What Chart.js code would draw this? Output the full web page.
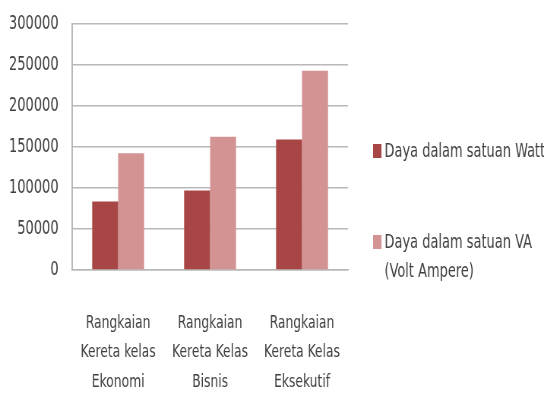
<!DOCTYPE html>
<html>
<head>
<meta charset="utf-8">
<script src="https://cdn.jsdelivr.net/npm/chart.js@4"></script>
<style>
  html, body { margin: 0; padding: 0; background: #fff; overflow: hidden; }
  #wrap { width: 544px; height: 401px; }
</style>
</head>
<body>
<div id="wrap">
  <!-- drawn wide, shown narrow: the source picture is squeezed sideways -->
  <canvas id="chart" width="716" height="401" style="width:544px;height:401px;display:block"></canvas>
</div>
<script>
'use strict';

// data
const categories = [
  ['Rangkaian', 'Kereta kelas', 'Ekonomi'],
  ['Rangkaian', 'Kereta Kelas', 'Bisnis'],
  ['Rangkaian', 'Kereta Kelas', 'Eksekutif'],
];
const seriesNames = [
  ['Daya dalam satuan Watt'],
  ['Daya dalam satuan VA', '(Volt Ampere)'],
];
const watt = [83500, 97000, 159000];
const voltAmpere = [142500, 162500, 243000];
const yTicks = [0, 50000, 100000, 150000, 200000, 250000, 300000];

const colors = ['#a84646', '#d49393'];
const font = '"DejaVu Sans Condensed", "Liberation Sans", sans-serif';

// legend on the right, drawn by hand so the second label can wrap
const sideLegend = {
  id: 'sideLegend',
  afterDraw(chart) {
    let ctx = chart.ctx;
    let rows = [151, 242]; // centre of first line of each entry
    let x0 = chart.chartArea.right + 33;
    ctx.save();
    ctx.font = '19px ' + font;
    ctx.textBaseline = 'middle';
    chart.data.datasets.forEach((ds, i) => {
      ctx.fillStyle = ds.backgroundColor;
      ctx.fillRect(x0, rows[i] - 7, 11, 14);
      ctx.fillStyle = '#404040';
      seriesNames[i].forEach((line, j) => {
        ctx.fillText(line, x0 + 15, rows[i] + 1 + j * 29);
      });
    });
    ctx.restore();
  },
};

let chart = new Chart(document.getElementById('chart'), {
  type: 'bar',
  data: {
    labels: categories,
    datasets: [
      { label: seriesNames[0].join(' '), data: watt, backgroundColor: colors[0] },
      { label: seriesNames[1].join(' '), data: voltAmpere, backgroundColor: colors[1] },
    ],
  },
  options: {
    responsive: false,
    animation: false,
    layout: { padding: { top: 24, right: 258, left: 0, bottom: 0 } },
    categoryPercentage: 0.565,
    barPercentage: 1,
    plugins: { legend: { display: false }, tooltip: { enabled: false } },
    scales: {
      x: {
        afterFit(scale) { scale.height = 131; },
        grid: { display: false },
        border: { color: '#b8b8b8', width: 1.5 },
        ticks: {
          color: '#404040',
          font: { family: font, size: 18, lineHeight: 1.66 },
          padding: 30,
          maxRotation: 0,
          autoSkip: false,
        },
      },
      y: {
        min: 0,
        max: 300000,
        afterFit(scale) { scale.width = 95; },
        afterBuildTicks(scale) { scale.ticks = yTicks.map(v => ({ value: v })); },
        // invisible tick marks keep the labels off the axis without padding the top
        grid: { color: '#b8b8b8', lineWidth: 1.5, tickLength: 18, tickColor: 'rgba(0,0,0,0)' },
        border: { color: '#b8b8b8', width: 2 },
        ticks: {
          color: '#404040',
          font: { family: font, size: 19 },
          padding: 0,
          callback: v => String(v),
        },
      },
    },
  },
  plugins: [sideLegend],
});
</script>
</body>
</html>
